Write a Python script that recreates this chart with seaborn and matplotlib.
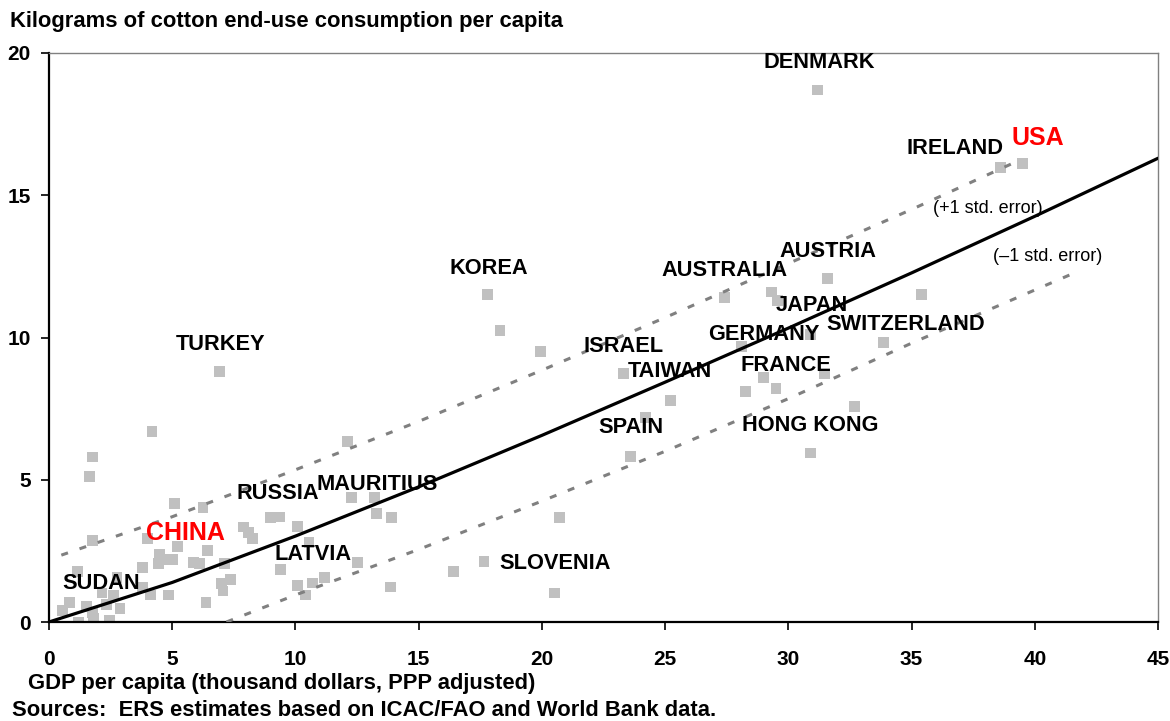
import matplotlib
matplotlib.use('Agg')
import numpy as np
import pandas as pd
import matplotlib.pyplot as plt
import seaborn as sns

# country points: GDP per capita (thousand $, PPP) vs cotton use per capita (kg)
gdp = [31.2, 38.6, 39.5, 31.6, 35.4, 27.4, 29.3, 29.55, 17.8, 18.3,
       19.95, 23.3, 25.2, 24.2, 23.6, 28.1, 30.9, 33.85, 29.0, 28.25,
       29.5, 31.45, 32.7, 30.9, 20.7, 17.65, 16.4, 20.5, 6.9, 12.1,
       12.26, 13.2, 13.3, 13.9, 13.85, 6.25, 8.97, 9.35, 10.1, 7.9,
       8.08, 8.24, 6.45, 10.55, 12.5, 9.4, 5.85, 6.1, 7.14, 7.35,
       7.0, 7.06, 10.1, 10.4, 10.7, 11.16, 6.37, 4.18, 1.75, 1.66,
       5.11, 1.75, 3.98, 5.2, 4.5, 4.46, 4.8, 5.03, 3.81, 1.14,
       2.76, 3.81, 4.1, 4.83, 2.15, 2.6, 2.35, 2.88, 0.85, 0.53,
       1.54, 1.75, 1.79, 1.18, 2.44]
cotton = [18.7, 15.96, 16.13, 12.06, 11.5, 11.4, 11.6, 11.3, 11.5, 10.26,
          9.5, 8.72, 7.8, 7.2, 5.83, 9.67, 10.1, 9.84, 8.6, 8.1,
          8.2, 8.75, 7.56, 5.94, 3.66, 2.14, 1.79, 1.02, 8.79, 6.33,
          4.36, 4.39, 3.83, 3.66, 1.23, 4.04, 3.66, 3.69, 3.37, 3.34,
          3.13, 2.92, 2.5, 2.81, 2.1, 1.86, 2.1, 2.07, 2.07, 1.51,
          1.34, 1.09, 1.27, 0.95, 1.37, 1.58, 0.70, 6.71, 5.8, 5.1,
          4.18, 2.88, 2.92, 2.64, 2.39, 2.04, 2.21, 2.21, 1.9, 1.79,
          1.55, 1.23, 0.95, 0.95, 1.02, 0.95, 0.63, 0.49, 0.70, 0.42,
          0.53, 0.32, 0.14, 0.0, 0.07]

# fitted curve and +/- 1 std. error bands
fit_x = [0, 5, 10, 15, 20, 25, 30, 35, 40, 45]
fit_y = [0, 1.39, 3.02, 4.75, 6.56, 8.43, 10.33, 12.27, 14.26, 16.3]
upper_x = [0.5, 5, 10, 15, 20, 25, 30, 35, 39.4]
upper_y = [2.35, 3.7, 5.35, 7.05, 8.85, 10.7, 12.6, 14.5, 16.24]
lower_x = [7.2, 10, 15, 20, 25, 30, 35, 41.5]
lower_y = [0, 0.95, 2.55, 4.25, 6.0, 7.85, 9.8, 12.23]

# country labels (centre positions in data units)
labels = ['DENMARK', 'IRELAND', 'AUSTRIA', 'AUSTRALIA', 'KOREA', 'JAPAN',
          'SWITZERLAND', 'GERMANY', 'ISRAEL', 'TURKEY', 'FRANCE', 'TAIWAN',
          'SPAIN', 'HONG KONG', 'RUSSIA', 'MAURITIUS', 'LATVIA', 'SLOVENIA', 'SUDAN']
label_x = [31.25, 36.77, 31.6, 27.4, 17.86, 30.97, 34.78, 29.0, 23.3, 6.94,
           29.9, 25.2, 23.6, 30.9, 9.29, 13.3, 10.71, 20.54, 2.11]
label_y = [19.65, 16.63, 13.04, 12.37, 12.44, 11.14, 10.47, 10.09, 9.67, 9.74,
           9.03, 8.79, 6.82, 6.92, 4.5, 4.82, 2.36, 2.04, 1.37]
red_labels = ['USA', 'CHINA']
red_x = [40.14, 5.52]
red_y = [17.0, 3.13]

df = pd.DataFrame({'gdp': gdp, 'cotton': cotton})

sns.set_theme(style='white')
plt.rcParams['font.family'] = ['Liberation Sans', 'DejaVu Sans']
plt.rcParams['text.color'] = 'black'
plt.rcParams['xtick.color'] = 'black'
plt.rcParams['ytick.color'] = 'black'

fig, ax = plt.subplots(figsize=(11.7, 7.21), dpi=100)
fig.subplots_adjust(left=49/1170, right=1158/1170, bottom=99/721, top=668/721)

sns.scatterplot(data=df, x='gdp', y='cotton', marker='s', s=62, color='#C0C0C0',
                edgecolor='none', linewidth=0, ax=ax, zorder=2)

ax.plot(upper_x, upper_y, color='#808080', lw=2.2, dashes=(2.3, 4.0),
        dash_capstyle='butt', zorder=3)
ax.plot(lower_x, lower_y, color='#808080', lw=2.2, dashes=(2.3, 4.0),
        dash_capstyle='butt', zorder=3)
sns.lineplot(x=fit_x, y=fit_y, color='black', lw=2.3, ax=ax, zorder=4)

for name, x, y in zip(labels, label_x, label_y):
    ax.text(x, y, name, ha='center', va='center', fontsize=15.7, fontweight='bold',
            color='black', zorder=5)
for name, x, y in zip(red_labels, red_x, red_y):
    ax.text(x, y, name, ha='center', va='center', fontsize=18, fontweight='bold',
            color='#FF0000', zorder=5)

ax.text(38.1, 14.55, '(+1 std. error)', ha='center', va='center', fontsize=13,
        color='black', zorder=5)
ax.text(40.54, 12.86, '(\u20131 std. error)', ha='center', va='center', fontsize=13,
        color='black', zorder=5)

ax.set_xlim(0, 45)
ax.set_ylim(0, 20)
ax.set_xticks(range(0, 46, 5))
ax.set_yticks(range(0, 21, 5))
ax.set_xlabel('')
ax.set_ylabel('')
ax.tick_params(axis='both', direction='out', length=6, width=1.2, color='black',
               labelcolor='black', labelsize=15, bottom=True, left=True)
ax.tick_params(axis='x', pad=14)
ax.tick_params(axis='y', pad=7)
for lab in ax.get_xticklabels() + ax.get_yticklabels():
    lab.set_fontweight('bold')

for side in ['left', 'bottom']:
    ax.spines[side].set_color('black')
    ax.spines[side].set_linewidth(1.6)
for side in ['top', 'right']:
    ax.spines[side].set_color('#808080')
    ax.spines[side].set_linewidth(1.0)
ax.grid(False)

fig.text(10/1170, 1 - 22/721, 'Kilograms of cotton end-use consumption per capita',
         ha='left', va='center', fontsize=15.8, fontweight='bold', color='black')
fig.text(28/1170, 1 - 684/721, 'GDP per capita (thousand dollars, PPP adjusted)',
         ha='left', va='center', fontsize=15.8, fontweight='bold', color='black')
fig.text(12/1170, 1 - 711/721, 'Sources:  ERS estimates based on ICAC/FAO and World Bank data.',
         ha='left', va='center', fontsize=15.8, fontweight='bold', color='black')

fig.savefig('out.png', dpi=100)
